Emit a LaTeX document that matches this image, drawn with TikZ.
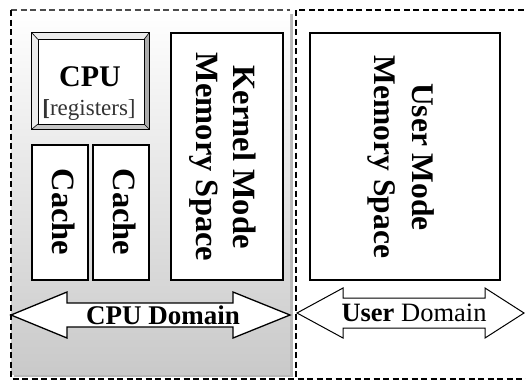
\documentclass[tikz,border=0pt]{standalone}
\usepackage{fontspec}
\setmainfont{Liberation Serif}
\begin{document}
\begin{tikzpicture}[x=1pt,y=-1pt,
  box/.style={draw=black,line width=1.3pt,fill=white,inner sep=0pt},
  btxt/.style={font=\fontsize{32.5}{37}\selectfont\bfseries,align=center,rotate=-90,inner sep=0pt},
  dom/.style={draw=black,line width=1.3pt,dash pattern=on 6pt off 3.5pt},
  arr/.style={draw=black,fill=white,line width=1pt,line join=miter}]
\useasboundingbox (0,0) rectangle (526,381);
% domains
\fill[gray!55] (14,14) rectangle (293,377);
\shade[top color=white,bottom color=gray!42] (11,10) rectangle (290,374);
\draw[dom,draw=gray!60!black] (11,10) -- (290,10);
\draw[dom] (11,10) -- (11,379) -- (296,379);
\draw[dom] (296,10) rectangle (530,379);
% CPU bevel box
\node[box,minimum width=117,minimum height=96] (cpu) at (90.5,81) {};
\fill[gray!15] (32,33) -- (149,33) -- (144,39.5) -- (38,39.5) -- (38,124) -- (32,129) -- cycle;
\fill[gray!65] (149,33) -- (149,129) -- (144,124) -- (144,39.5) -- cycle;
\fill[gray!45] (32,129) -- (149,129) -- (144,124) -- (38,124) -- cycle;
\draw[line width=1.3pt] (cpu.north west) rectangle (cpu.south east);
\draw[line width=0.8pt] (38,39.5) rectangle (144,124);
\draw[line width=0.6pt] (32,33) -- (38,39.5) (149,33) -- (144,39.5) (32,129) -- (38,124) (149,129) -- (144,124);
\node[font=\fontsize{30}{32}\selectfont\bfseries,inner sep=0pt] (cputxt) at (90,77) {CPU};
\node[font=\fontsize{23}{25}\selectfont,text=black!80,inner sep=0pt] (reg) at (89,110) {\textbf{[}registers]};
% caches and memory boxes
\node[box,minimum width=56,minimum height=135] (c1) at (60,212.5) {};
\node[box,minimum width=56,minimum height=135] (c2) at (121,212.5) {};
\node[box,minimum width=112,minimum height=247] (kern) at (227,156.5) {};
\node[box,minimum width=190,minimum height=247] (user) at (405,156.5) {};
\node[btxt] (c1t) at (64,212) {Cache};
\node[btxt] (c2t) at (125,212) {Cache};
\node[btxt] (kt) at (223,157) {Kernel Mode\\Memory Space};
\node[btxt,font=\fontsize{31.5}{38}\selectfont\bfseries] (ut) at (401,157) {User Mode\\Memory Space};
% domain arrows
\draw[arr,line width=1.3pt] (11,315) -- (67,292) -- (67,303) -- (233,303) -- (233,292) -- (290,315) -- (233,338) -- (233,327) -- (67,327) -- (67,338) -- cycle;
\node[font=\fontsize{27}{30}\selectfont\bfseries,inner sep=0pt] (cpud) at (163,315) {CPU Domain};
\draw[arr] (297,313) -- (343,288) -- (343,298) -- (485,298) -- (485,288) -- (524,313) -- (485,338) -- (485,328) -- (343,328) -- (343,338) -- cycle;
\node[font=\fontsize{26.5}{29}\selectfont,inner sep=0pt] (userd) at (414,313) {\textbf{User} Domain};
\end{tikzpicture}
\end{document}
